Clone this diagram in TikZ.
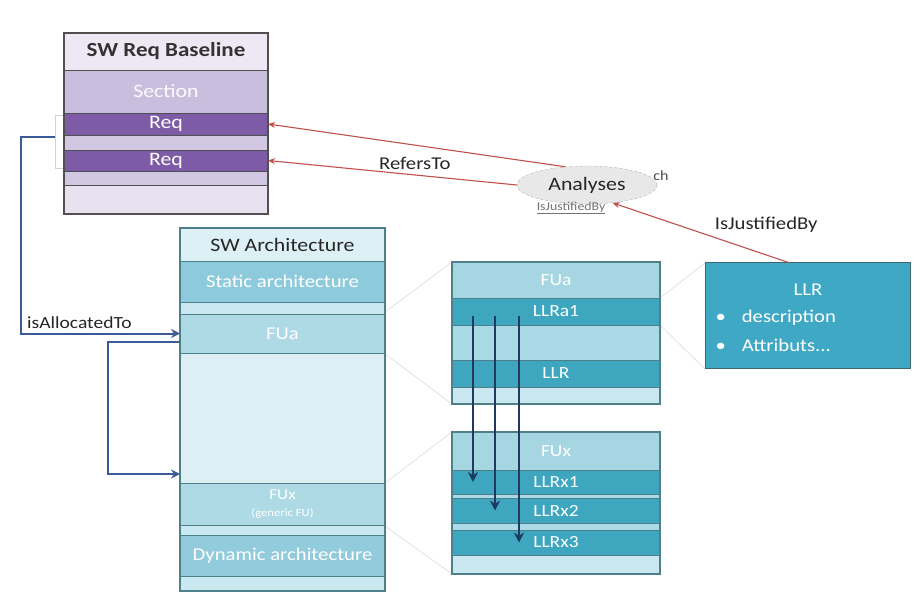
\documentclass[tikz,border=0pt]{standalone}
\usepackage{fontspec}
\setmainfont{Carlito}[FakeStretch=1.15]
\usetikzlibrary{arrows.meta,shapes.geometric}
\definecolor{pborder}{HTML}{505050}
\definecolor{phead}{HTML}{EEE8F4}
\definecolor{psec}{HTML}{C9BEDD}
\definecolor{preq}{HTML}{7D5BA6}
\definecolor{pstrip}{HTML}{D3C8E3}
\definecolor{pbot}{HTML}{E8E2F0}
\definecolor{aborder}{HTML}{4F7F8A}
\definecolor{ahead}{HTML}{DDF0F6}
\definecolor{astatic}{HTML}{8DCBDC}
\definecolor{astrip}{HTML}{C9E8F0}
\definecolor{afu}{HTML}{ADDAE5}
\definecolor{abig}{HTML}{DDEEF4}
\definecolor{adyn}{HTML}{92CBDC}
\definecolor{mllr}{HTML}{3FA6C0}
\definecolor{mhead}{HTML}{A6D6E2}
\definecolor{mlight}{HTML}{AADAE6}
\definecolor{llrbox}{HTML}{3FA8C5}
\definecolor{redc}{HTML}{C0504D}
\definecolor{bluec}{HTML}{3B5B98}
\definecolor{navy}{HTML}{1F3A5F}
\newcommand\rbox[7]{\node[#6, minimum width={(#4-#2)*1pt}, minimum height={(#5-#3)*1pt}] (#1) at ({(#2+#4)/2},{(#3+#5)/2}) {#7};}
\tikzset{
  cell/.style={draw=#1, line width=1pt, inner sep=0pt, outer sep=0pt, align=center},
  pcell/.style={cell=pborder, font=\fontsize{19}{21}\selectfont},
  acell/.style={cell=aborder, font=\fontsize{18}{20}\selectfont, text=white},
  mcell/.style={cell=aborder, font=\fontsize{17}{19}\selectfont, text=white},
  redarr/.style={draw=redc, line width=1.1pt, -{Stealth[length=7pt,width=6pt]}},
  bluearr/.style={draw=bluec, line width=2pt, -{Stealth[length=9pt,width=9pt]}},
  navyarr/.style={draw=navy, line width=2.4pt, -{Stealth[length=10pt,width=10pt]}},
  faint/.style={draw=gray!22, line width=0.8pt},
  lbl/.style={font=\fontsize{18}{20}\selectfont, text=black!85}
}
\begin{document}
\begin{tikzpicture}[x=1pt,y=-1pt]
\useasboundingbox (0,0) rectangle (922,597);
\fill[white] (0,0) rectangle (922,597);

% faint zoom lines
\coordinate (z1) at (385,312); \coordinate (z2) at (452,262);
\coordinate (z3) at (385,354); \coordinate (z4) at (452,404);
\coordinate (z5) at (385,483); \coordinate (z6) at (452,432);
\coordinate (z7) at (385,526); \coordinate (z8) at (452,574);
\coordinate (z9) at (660,298); \coordinate (z10) at (705,263);
\coordinate (z11) at (660,325); \coordinate (z12) at (705,369);
\draw[faint] (z1) -- (z2) (z3) -- (z4) (z5) -- (z6) (z7) -- (z8) (z9) -- (z10) (z11) -- (z12);

% SW Req Baseline
\rbox{rhead}{64}{33}{268}{70}{pcell, fill=phead, font=\fontsize{20}{22}\selectfont\bfseries, text=black!80}{SW Req Baseline}
\rbox{rsec}{64}{70}{268}{113}{pcell, fill=psec, text=white!92!psec}{Section}
\rbox{req1}{64}{113}{268}{135}{pcell, fill=preq, text=white}{Req}
\rbox{rs1}{64}{135}{268}{150}{pcell, fill=pstrip}{}
\rbox{req2}{64}{150}{268}{171}{pcell, fill=preq, text=white}{Req}
\rbox{rs2}{64}{171}{268}{185}{pcell, fill=pstrip}{}
\rbox{rbot}{64}{185}{268}{214}{pcell, fill=pbot}{}
\draw[pborder, line width=1.5pt] (rhead.north west) rectangle (rbot.south east);

% SW Architecture
\rbox{ahd}{180}{228}{385}{261}{acell, fill=ahead, text=black!85, font=\fontsize{19}{21}\selectfont}{SW Architecture}
\rbox{ast}{180}{261}{385}{302}{acell, fill=astatic}{Static architecture}
\rbox{as1}{180}{302}{385}{314}{acell, fill=astrip}{}
\rbox{fua}{180}{314}{385}{353}{acell, fill=afu}{FUa}
\rbox{abg}{180}{353}{385}{483}{acell, fill=abig}{}
\rbox{fux}{180}{483}{385}{525}{acell, fill=afu}{{\fontsize{15}{15}\selectfont FUx}\\[-3pt]{\fontsize{11}{12}\selectfont (generic FU)}}
\rbox{as2}{180}{525}{385}{535}{acell, fill=astrip}{}
\rbox{adyn}{180}{535}{385}{576}{acell, fill=adyn}{Dynamic architecture}
\rbox{as3}{180}{576}{385}{591}{acell, fill=astrip}{}
\draw[aborder, line width=1.5pt] (ahd.north west) rectangle (as3.south east);

% middle top box
\rbox{mfua}{452}{262}{660}{298}{mcell, fill=mhead}{FUa}
\rbox{llra1}{452}{298}{660}{325}{mcell, fill=mllr}{LLRa1}
\rbox{ml1}{452}{325}{660}{360}{mcell, fill=mlight}{}
\rbox{mllr}{452}{360}{660}{387}{mcell, fill=mllr}{LLR}
\rbox{ms1}{452}{387}{660}{404}{mcell, fill=astrip}{}
\draw[aborder, line width=1.4pt] (mfua.north west) rectangle (ms1.south east);

% middle bottom box
\rbox{mfux}{452}{432}{660}{470}{mcell, fill=mhead}{FUx}
\rbox{llrx1}{452}{470}{660}{494}{mcell, fill=mllr}{LLRx1}
\rbox{mb1}{452}{494}{660}{498}{mcell, fill=mlight}{}
\rbox{llrx2}{452}{498}{660}{523}{mcell, fill=mllr}{LLRx2}
\rbox{mb2}{452}{523}{660}{530}{mcell, fill=mlight}{}
\rbox{llrx3}{452}{530}{660}{555}{mcell, fill=mllr}{LLRx3}
\rbox{mb3}{452}{555}{660}{574}{mcell, fill=astrip}{}
\draw[aborder, line width=1.4pt] (mfux.north west) rectangle (mb3.south east);

% LLR box
\node[draw=aborder!80!black, line width=1pt, fill=llrbox, minimum width=205pt, minimum height=106pt, inner sep=0pt] (llr) at (807.5,315.5) {};
\node[text=white, font=\fontsize{18}{20}\selectfont] (llrt) at (808,290) {LLR};
\node[text=white, font=\fontsize{18}{20}\selectfont, anchor=west] (llrd) at (712,318) {\textbullet\hspace{16pt}description};
\node[text=white, font=\fontsize{18}{20}\selectfont, anchor=west] (llra) at (712,345) {\textbullet\hspace{16pt}Attributs...};

% Analyses ellipse
\node[ellipse, draw=gray!60, densely dashed, fill=gray!18, minimum width=140pt, minimum height=38pt, inner sep=0pt, font=\fontsize{19}{21}\selectfont, text=black!85] (ana) at (587,185) {Analyses};
\node[font=\fontsize{14}{15}\selectfont, text=black!70] (ch) at (661,176) {ch};
\node[font=\fontsize{12}{13}\selectfont, text=black!55] (ijs) at (571,208) {\underline{IsJustifiedBy}};

% red arrows
\draw[redarr] (ana.140) -- (req1.east);
\draw[redarr] (ana.west) -- node[pos=0.41, above, lbl, yshift=1pt] (refl) {RefersTo} (req2.east);
\coordinate (llrtop) at (790,263);
\draw[redarr] (llrtop) -- node[pos=0.5, above right, lbl, inner sep=2pt, xshift=11pt, yshift=-2pt] (ijl) {IsJustifiedBy} (ana.-35);

% bracket and blue connectors
\coordinate (bkt) at (63,115); \coordinate (bkb) at (63,168);
\draw[gray!35, line width=0.8pt] (bkt) -- (55,115) -- (55,168) -- (bkb);
\coordinate (br) at (55,137);
\draw[bluearr] (br) -- (21,137) |- (fua.west);
\node[lbl, font=\fontsize{17}{19}\selectfont, anchor=south west, inner sep=2pt] (alloc) at (25,331) {isAllocatedTo};
\coordinate (c2) at (180,342);
\coordinate (c3) at (180,474);
\draw[bluearr] (c2) -- (108,342) |- (c3);

% navy arrows
\coordinate (n1) at (473,316); \coordinate (n2) at (495,316); \coordinate (n3) at (519,316);
\draw[navyarr] (n1) -- (n1 |- llrx1.center);
\draw[navyarr] (n2) -- (n2 |- llrx2.center);
\draw[navyarr] (n3) -- (n3 |- llrx3.center);
\end{tikzpicture}
\end{document}
